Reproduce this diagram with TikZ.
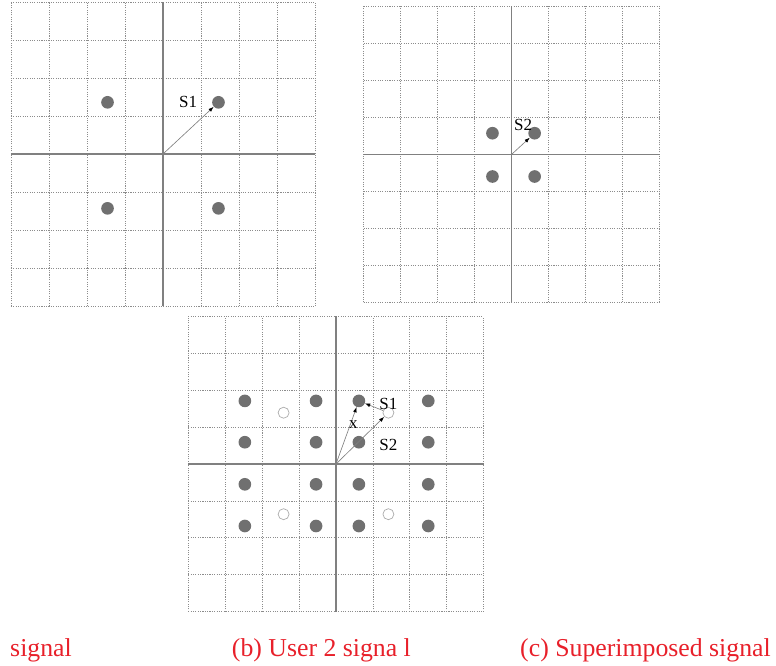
\documentclass[tikz,border=0pt]{standalone}
\usepackage{fontspec}
\setmainfont{Liberation Serif}
\usepackage{tikz}
\usetikzlibrary{arrows.meta}
\definecolor{capred}{RGB}{232,32,42}
\definecolor{dotgray}{RGB}{112,112,112}

\begin{document}
\begin{tikzpicture}[x=0.03cm,y=-0.03cm,
    gridline/.style={black!45,line width=0.65pt,dash pattern=on 0.9pt off 1.1pt},
    axisline/.style={black!50,line width=0.9pt},
    sig/.style={circle,fill=dotgray,inner sep=0pt,minimum size=0.38cm},
    ghost/.style={circle,draw=gray!65,fill=white,line width=0.6pt,inner sep=0pt,minimum size=0.33cm},
    vec/.style={gray,line width=0.55pt,-{Latex[length=4.5pt,width=3.2pt,color=black]}},
    lbl/.style={inner sep=0pt,font=\fontsize{14.5}{16}\selectfont},
    capline/.style={text=capred,font=\fontsize{22}{26}\selectfont,inner sep=0pt,anchor=base west}]
\useasboundingbox (0,0) rectangle (776,665);

\begin{scope}[shift={(163,154)},x=1.14cm,y=1.14cm]
\foreach \i in {-4,...,4}
  \draw[gridline] (\i,-4) -- (\i,4) (-4,\i) -- (4,\i);
\draw[axisline] (-4,0) -- (4,0) (0,-4) -- (0,4);
\coordinate (oa) at (0,0);
\node[sig] (a1) at (1.46,1.36) {};
\node[sig] (a2) at (-1.46,1.36) {};
\node[sig] (a3) at (-1.46,-1.43) {};
\node[sig] (a4) at (1.46,-1.43) {};
\draw[vec] (oa) -- (a1);
\node[lbl] (la1) at (0.66,1.37) {S1};
\end{scope}

\begin{scope}[shift={(511.7,154.3)},x=1.11cm,y=1.11cm]
\foreach \i in {-4,...,4}
  \draw[gridline] (\i,-4) -- (\i,4) (-4,\i) -- (4,\i);
\draw[axisline] (-4,0) -- (4,0) (0,-4) -- (0,4);
\coordinate (ob) at (0,0);
\node[sig] (b1) at (0.62,0.57) {};
\node[sig] (b2) at (-0.52,0.57) {};
\node[sig] (b3) at (-0.52,-0.6) {};
\node[sig] (b4) at (0.62,-0.6) {};
\draw[vec] (ob) -- (b1);
\node[lbl] (lb1) at (0.31,0.8) {S2};
\end{scope}

\begin{scope}[shift={(336,464)},x=1.107cm,y=1.107cm]
\foreach \i in {-4,...,4}
  \draw[gridline] (\i,-4) -- (\i,4) (-4,\i) -- (4,\i);
\draw[axisline] (-4,0) -- (4,0) (0,-4) -- (0,4);
\coordinate (oc) at (0,0);
\foreach \u [count=\i] in {-2.47,-0.54,0.62,2.5}
  \foreach \v [count=\j] in {1.71,0.59,-0.55,-1.68}
    \node[sig] (c\i\j) at (\u,\v) {};
\node[ghost] (g1) at (1.42,1.39) {};
\node[ghost] (g2) at (-1.42,1.39) {};
\node[ghost] (g3) at (-1.42,-1.36) {};
\node[ghost] (g4) at (1.42,-1.36) {};
\draw[vec] (oc) -- (c31);
\draw[vec] (oc) -- (g1);
\draw[vec] (g1) -- (c31);
\node[lbl] (lc1) at (1.42,1.62) {S1};
\node[lbl] (lcx) at (0.47,1.08) {x};
\node[lbl] (lc2) at (1.42,0.51) {S2};
\end{scope}

\node[capline] (capa) at (10,656) {signal};
\node[capline] (capb) at (231.7,656) {(b) User 2 signa l};
\node[capline] (capc) at (520,656) {(c) Superimposed signal};
\end{tikzpicture}
\end{document}
